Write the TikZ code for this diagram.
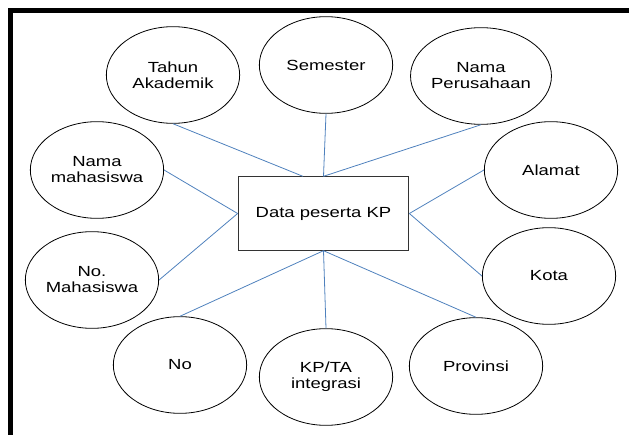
\documentclass[tikz,border=0pt]{standalone}
\usepackage{fontspec}
\setmainfont[FakeStretch=1.26]{Liberation Sans}
\usetikzlibrary{shapes.geometric}

\begin{document}
\begin{tikzpicture}[x=0.75pt,y=-0.75pt,
  attr/.style={draw=black,line width=0.6pt,ellipse,minimum width=100pt,minimum height=72.5pt,inner sep=0pt,align=center,font=\fontsize{11}{12}\selectfont},
  entity/.style={draw=black!80,line width=0.8pt,rectangle,minimum width=128pt,minimum height=55pt,inner sep=0pt,font=\fontsize{11}{12}\selectfont},
  link/.style={draw={rgb,255:red,79;green,129;blue,189},line width=0.6pt}]
\useasboundingbox (0,0) rectangle (629,435);
\draw [line width=3.8pt] (10.5,435) -- (10.5,10.5) -- (629,10.5);
\node [entity] (data) at (323.5,213.5) {Data peserta KP};
\node [attr] (tahun) at (173,75) {Tahun\\Akademik};
\node [attr] (semester) at (326,65) {Semester};
\node [attr] (perusahaan) at (481,76) {Nama\\Perusahaan};
\node [attr] (alamat) at (551,170) {Alamat};
\node [attr] (nama) at (97,170) {Nama\\mahasiswa};
\node [attr] (nomhs) at (92,280) {No.\\Mahasiswa};
\node [attr] (kota) at (549,276) {Kota};
\node [attr] (no) at (180,365) {No};
\node [attr] (kpta) at (326,377) {KP/TA\\integrasi};
\node [attr] (provinsi) at (476,366) {Provinsi};
\draw [link] (tahun.south) -- (data.119);
\draw [link] (semester.south) -- (data.north);
\draw [link] (perusahaan.south) -- (data.north);
\draw [link] (nama.east) -- (data.west);
\draw [link] (alamat.west) -- (data.east);
\draw [link] (nomhs.east) -- (data.west);
\draw [link] (kota.west) -- (data.east);
\draw [link] (no.north) -- (data.south);
\draw [link] (kpta.north) -- (data.south);
\draw [link] (provinsi.north) -- (data.south);
\end{tikzpicture}
\end{document}
